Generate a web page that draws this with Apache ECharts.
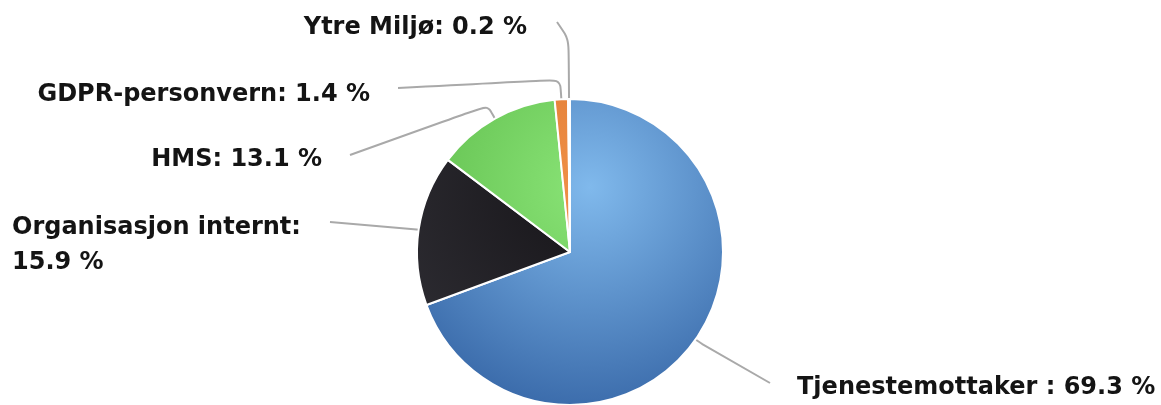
<!DOCTYPE html>
<html>
<head>
<meta charset="utf-8">
<script src="https://cdn.jsdelivr.net/npm/echarts@6/dist/echarts.min.js"></script>
<style>
html,body{margin:0;padding:0;background:#fff;}
#chart{width:1161px;height:405px;}
</style>
</head>
<body>
<div id="chart"></div>
<script>
// ---- data ----
const categories = ["Tjenestemottaker ", "Organisasjon internt", "HMS", "GDPR-personvern", "Ytre Miljø"];
const percentages = [69.3, 15.9, 13.1, 1.4, 0.2];

// ---- styling ----
const CX = 570, CY = 252, R = 153;
function radial(c0, c1) {
  return { type: 'radial', x: CX + 20, y: CY - 65, r: R + 80, global: true,
    colorStops: [{ offset: 0, color: c0 }, { offset: 1, color: c1 }] };
}
const sliceColors = [
  radial('#80b9ec', '#3868a8'),
  radial('#161418', '#2e2d33'),
  radial('#8ae477', '#5ab847'),
  radial('#f09048', '#d9732a'),
  radial('#f4f4f4', '#eeeeee')
];
// label anchor placement (x, y, align, bend length, end gap point)
const labelPlace = [
  { x: 797, y: 388, align: 'left',  bend: 8,  end: [770, 383] },
  { x: 12,  y: 245, align: 'left',  bend: 2,  end: [330, 222] },
  { x: 322, y: 160, align: 'right', bend: 15, end: [350, 155] },
  { x: 370, y: 95,  align: 'right', bend: 20, end: [398, 88] },
  { x: 527, y: 28,  align: 'right', bend: 60, end: [557, 22] }
];

const chart = echarts.init(document.getElementById('chart'), null, { renderer: 'canvas' });

const data = categories.map((name, i) => ({
  name: name,
  value: percentages[i],
  itemStyle: { color: sliceColors[i] }
}));

chart.setOption({
  animation: false,
  series: [{
    type: 'pie',
    center: [CX, CY],
    radius: [0, R],
    startAngle: 90,
    clockwise: true,
    avoidLabelOverlap: false,
    itemStyle: { borderColor: '#ffffff', borderWidth: 2 },
    label: {
      show: true,
      position: 'outside',
      fontFamily: 'DejaVu Sans',
      fontWeight: 'bold',
      fontSize: 24,
      lineHeight: 35,
      color: '#141414',
      formatter: function (p) {
        const v = p.value.toFixed(1) + ' %';
        if (p.dataIndex === 1) return p.name + ':\n' + v;
        return p.name + ': ' + v;
      }
    },
    labelLine: {
      show: true,
      length: 10,
      length2: 10,
      smooth: 0.25,
      lineStyle: { color: '#a9a9a9', width: 2 }
    },
    labelLayout: function (params) {
      const lp = labelPlace[params.dataIndex];
      const pts = params.labelLinePoints;
      let out = { x: lp.x, y: lp.y, align: lp.align, verticalAlign: 'middle', hideOverlap: false };
      if (pts && pts.length) {
        const p0 = pts[0];
        const dx = p0[0] - CX, dy = p0[1] - CY;
        const len = Math.sqrt(dx * dx + dy * dy) || 1;
        const p1 = [p0[0] + dx / len * lp.bend, p0[1] + dy / len * lp.bend];
        out.labelLinePoints = [p0, p1, lp.end];
      }
      return out;
    },
    data: data
  }]
});
</script>
</body>
</html>
